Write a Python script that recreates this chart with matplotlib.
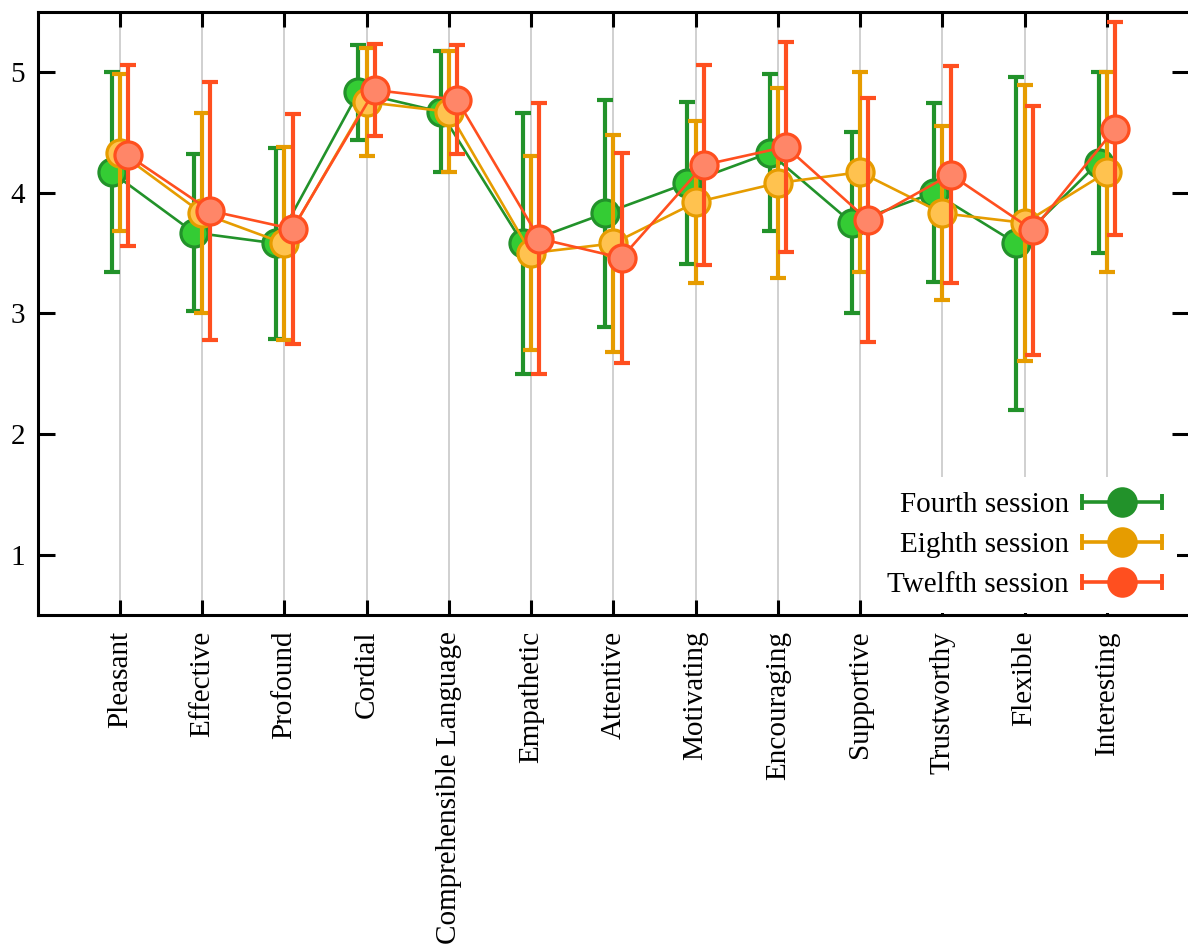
import numpy as np
import matplotlib
matplotlib.use("Agg")
import matplotlib.pyplot as plt
from matplotlib.lines import Line2D
from matplotlib.legend_handler import HandlerLine2D

plt.rcParams['font.family'] = ['Liberation Serif', 'DejaVu Serif']
plt.rcParams['font.size'] = 21

traits = ["Pleasant", "Effective", "Profound", "Cordial", "Comprehensible Language",
          "Empathetic", "Attentive", "Motivating", "Encouraging", "Supportive",
          "Trustworthy", "Flexible", "Interesting"]

# mean ratings per session
fourth = [4.17, 3.67, 3.58, 4.83, 4.67, 3.58, 3.83, 4.08, 4.33, 3.75, 4.00, 3.58, 4.25]
eighth = [4.33, 3.83, 3.58, 4.75, 4.67, 3.50, 3.58, 3.92, 4.08, 4.17, 3.83, 3.75, 4.17]
twelfth = [4.31, 3.85, 3.70, 4.85, 4.77, 3.62, 3.46, 4.23, 4.38, 3.77, 4.15, 3.69, 4.53]

# standard deviations
fourth_sd = [0.83, 0.65, 0.79, 0.39, 0.50, 1.08, 0.94, 0.67, 0.65, 0.75, 0.74, 1.38, 0.75]
eighth_sd = [0.65, 0.83, 0.80, 0.45, 0.50, 0.80, 0.90, 0.67, 0.79, 0.83, 0.72, 1.14, 0.83]
twelfth_sd = [0.75, 1.07, 0.95, 0.38, 0.45, 1.12, 0.87, 0.83, 0.87, 1.01, 0.90, 1.03, 0.88]

labels = ["Fourth session", "Eighth session", "Twelfth session"]
line_colors = ["#22922a", "#e69c00", "#ff4f1f"]
face_colors = ["#34cc34", "#ffc24f", "#ff8668"]
offsets = [-0.1, 0.0, 0.1]

x = np.arange(1, len(traits) + 1)

fig = plt.figure(figsize=(11.88, 9.51), dpi=100)
ax = fig.add_axes([0.0316, 0.3528, 0.9693, 0.6351])

for xi in x:
    ax.axvline(xi, color="#c8c8c8", lw=1.2, zorder=0)

series = [(fourth, fourth_sd), (eighth, eighth_sd), (twelfth, twelfth_sd)]
for i, (m, sd) in enumerate(series):
    xs = x + offsets[i]
    ax.errorbar(xs, m, yerr=sd, fmt="none", ecolor=line_colors[i], elinewidth=3.0,
                capsize=5.8, capthick=3.0, zorder=2 + i * 3)
    ax.plot(xs, m, color=line_colors[i], lw=1.9, zorder=3 + i * 3)
    ax.plot(xs, m, ls="none", marker="o", ms=19.5, mfc=face_colors[i],
            mec=line_colors[i], mew=2.3, zorder=4 + i * 3)

ax.set_xlim(0, 14)
ax.set_ylim(0.5, 5.5)
ax.set_xticks(x)
ax.set_xticklabels(traits, rotation=90)
ax.set_yticks([1, 2, 3, 4, 5])
ax.tick_params(axis="both", direction="in", width=2.2, top=True, right=True)
ax.tick_params(axis="x", length=11, pad=11)
ax.tick_params(axis="y", length=12, pad=9)
for s in ax.spines.values():
    s.set_linewidth(2.2)

# legend handles: horizontal error bar with a dot in the middle
handles = []
hmap = {}
for i in range(3):
    bar = Line2D([], [], color=line_colors[i], lw=2.6, marker="|", ms=12, mew=2.8)
    dot = Line2D([], [], ls="none", marker="o", ms=22, color=line_colors[i], mew=0)
    hmap[bar] = HandlerLine2D(numpoints=2, marker_pad=0)
    handles.append((bar, dot))

leg = ax.legend(handles, labels, handler_map=hmap, loc="lower right",
                bbox_to_anchor=(0.9892, 0.0048), markerfirst=False,
                frameon=True, fancybox=False, framealpha=1, edgecolor="none",
                handlelength=2.75, handletextpad=0.45, labelspacing=0.47,
                borderaxespad=0, borderpad=0.5)
# keep the white box over the grid but under the axis ticks
leg.set_zorder(1.5)

fig.savefig("out.png", dpi=100)
